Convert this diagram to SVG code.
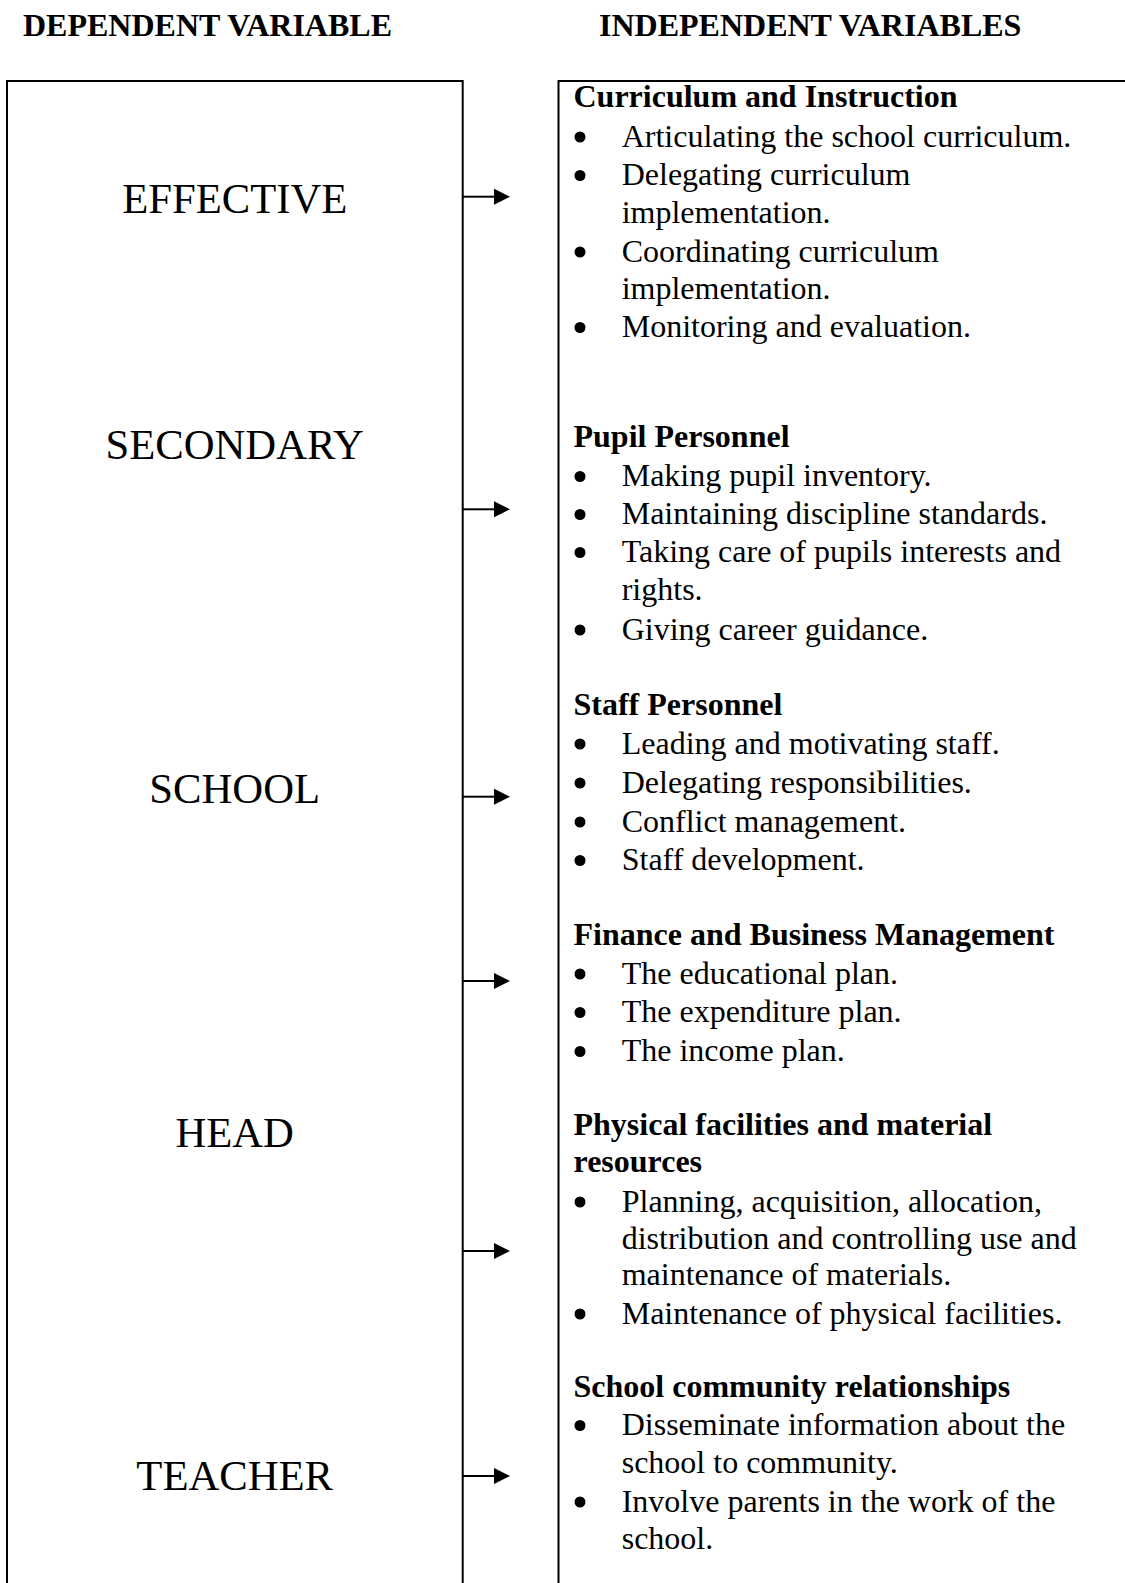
<svg xmlns="http://www.w3.org/2000/svg" width="1125" height="1583" viewBox="0 0 1125 1583">
<style>
text { font-family: "Liberation Serif", "Times New Roman", serif; fill: #000; }
.title { font-size: 32px; font-weight: bold; }
.h { font-size: 32px; font-weight: bold; }
.t { font-size: 32px; }
.big { font-size: 42.67px; text-anchor: middle; }
.box { fill: #fff; stroke: #000; stroke-width: 2; }
.conn { stroke: #000; stroke-width: 2; fill: none; }
.dot { fill: #000; }
</style>
<defs>
<marker id="ah" markerUnits="userSpaceOnUse" markerWidth="16" markerHeight="16" refX="1" refY="8" orient="auto">
<path d="M0,0 L16,8 L0,16 z" fill="#000"/>
</marker>
</defs>
<rect width="1125" height="1583" fill="#fff"/>
<g id="titles">
<text class="title" x="23" y="36">DEPENDENT VARIABLE</text>
<text class="title" x="599" y="36">INDEPENDENT VARIABLES</text>
</g>
<g id="dependent">
<rect class="box" x="7" y="81" width="455.7" height="1560"/>
<text class="big" x="234.7" y="213">EFFECTIVE</text>
<text class="big" x="234.7" y="458.5">SECONDARY</text>
<text class="big" x="234.7" y="803">SCHOOL</text>
<text class="big" x="234.7" y="1147">HEAD</text>
<text class="big" x="234.7" y="1489.5">TEACHER</text>
</g>
<g id="independent">
<rect class="box" x="558.5" y="81" width="600" height="1560"/>
<g id="curriculum">
<text class="h" x="573.5" y="107">Curriculum and Instruction</text>
<circle class="dot" cx="580" cy="137" r="5.5"/><text class="t" x="621.7" y="146.5">Articulating the school curriculum.</text>
<circle class="dot" cx="580" cy="175.5" r="5.5"/><text class="t" x="621.7" y="185">Delegating curriculum</text>
<text class="t" x="621.7" y="223">implementation.</text>
<circle class="dot" cx="580" cy="252" r="5.5"/><text class="t" x="621.7" y="261.5">Coordinating curriculum</text>
<text class="t" x="621.7" y="299">implementation.</text>
<circle class="dot" cx="580" cy="327.5" r="5.5"/><text class="t" x="621.7" y="337">Monitoring and evaluation.</text>
</g>
<g id="pupil">
<text class="h" x="573.5" y="447">Pupil Personnel</text>
<circle class="dot" cx="580" cy="476.5" r="5.5"/><text class="t" x="621.7" y="486">Making pupil inventory.</text>
<circle class="dot" cx="580" cy="514.5" r="5.5"/><text class="t" x="621.7" y="524">Maintaining discipline standards.</text>
<circle class="dot" cx="580" cy="552.5" r="5.5"/><text class="t" x="621.7" y="562">Taking care of pupils interests and</text>
<text class="t" x="621.7" y="600">rights.</text>
<circle class="dot" cx="580" cy="630" r="5.5"/><text class="t" x="621.7" y="639.5">Giving career guidance.</text>
</g>
<g id="staff">
<text class="h" x="573.5" y="715">Staff Personnel</text>
<circle class="dot" cx="580" cy="744" r="5.5"/><text class="t" x="621.7" y="753.5">Leading and motivating staff.</text>
<circle class="dot" cx="580" cy="783" r="5.5"/><text class="t" x="621.7" y="792.5">Delegating responsibilities.</text>
<circle class="dot" cx="580" cy="822" r="5.5"/><text class="t" x="621.7" y="831.5">Conflict management.</text>
<circle class="dot" cx="580" cy="860.5" r="5.5"/><text class="t" x="621.7" y="870">Staff development.</text>
</g>
<g id="finance">
<text class="h" x="573.5" y="945">Finance and Business Management</text>
<circle class="dot" cx="580" cy="974" r="5.5"/><text class="t" x="621.7" y="983.5">The educational plan.</text>
<circle class="dot" cx="580" cy="1012.5" r="5.5"/><text class="t" x="621.7" y="1022">The expenditure plan.</text>
<circle class="dot" cx="580" cy="1051.5" r="5.5"/><text class="t" x="621.7" y="1061">The income plan.</text>
</g>
<g id="physical">
<text class="h" x="573.5" y="1135">Physical facilities and material</text>
<text class="h" x="573.5" y="1172">resources</text>
<circle class="dot" cx="580" cy="1202" r="5.5"/><text class="t" x="621.7" y="1211.5">Planning, acquisition, allocation,</text>
<text class="t" x="621.7" y="1248.5">distribution and controlling use and</text>
<text class="t" x="621.7" y="1285">maintenance of materials.</text>
<circle class="dot" cx="580" cy="1314" r="5.5"/><text class="t" x="621.7" y="1323.5">Maintenance of physical facilities.</text>
</g>
<g id="community">
<text class="h" x="573.5" y="1397">School community relationships</text>
<circle class="dot" cx="580" cy="1425.5" r="5.5"/><text class="t" x="621.7" y="1435">Disseminate information about the</text>
<text class="t" x="621.7" y="1473">school to community.</text>
<circle class="dot" cx="580" cy="1502" r="5.5"/><text class="t" x="621.7" y="1511.5">Involve parents in the work of the</text>
<text class="t" x="621.7" y="1548.5">school.</text>
</g>
</g>
<g id="connectors">
<path class="conn" d="M463,196.7 H495" marker-end="url(#ah)"/>
<path class="conn" d="M463,509.3 H495" marker-end="url(#ah)"/>
<path class="conn" d="M463,796.7 H495" marker-end="url(#ah)"/>
<path class="conn" d="M463,981 H495" marker-end="url(#ah)"/>
<path class="conn" d="M463,1251 H495" marker-end="url(#ah)"/>
<path class="conn" d="M463,1476 H495" marker-end="url(#ah)"/>
</g>
</svg>
